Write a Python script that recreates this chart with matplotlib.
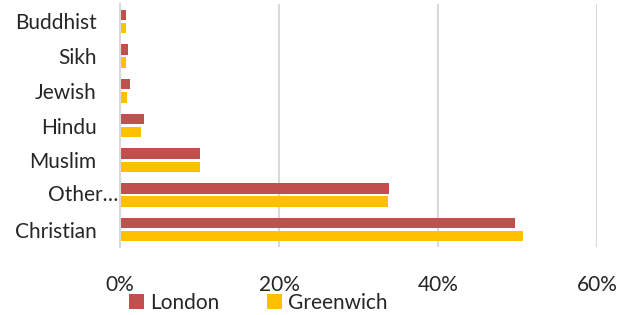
import matplotlib.pyplot as plt
import numpy as np

categories = ["Buddhist", "Sikh", "Jewish", "Hindu", "Muslim", "Other…", "Christian"]
london = [0.8, 1.0, 1.3, 3.0, 10.1, 33.8, 49.7]
greenwich = [0.75, 0.8, 0.9, 2.7, 10.0, 33.7, 50.7]
series_names = ["London", "Greenwich"]
xticks = [0, 20, 40, 60]

plt.rcParams['font.family'] = ['Lato', 'DejaVu Sans']

fig = plt.figure(figsize=(6.39, 3.15), dpi=100)
ax = fig.add_axes([120/639, 1-247/315, (597-120)/639, (247-4)/315])

y = np.arange(len(categories))
h = 0.3
ax.barh(y - 0.19, london, height=h, color="#C0504D", label=series_names[0])
ax.barh(y + 0.19, greenwich, height=h, color="#FFC000", label=series_names[1])

ax.set_ylim(len(categories) - 0.5, -0.5)
ax.set_xlim(0, 60)
ax.set_xticks(xticks)
ax.set_xticklabels([f"{t}%" for t in xticks])
ax.set_yticks(y)
ax.set_yticklabels(["" if c == "Other…" else c for c in categories])
ax.tick_params(axis="both", length=0, labelsize=15, colors="#262626")
ax.tick_params(axis="x", pad=20)
ax.tick_params(axis="y", pad=17)
# the truncated label sits closer to the axis, as in the original
i = categories.index("Other…")
ax.text(-0.004, i, "Other…", transform=ax.get_yaxis_transform(), ha="right",
        va="center", fontsize=15, color="#262626")
ax.grid(axis="x", color="#D9D9D9", linewidth=1.5)
ax.set_axisbelow(True)
for s in ["top", "right", "bottom"]:
    ax.spines[s].set_visible(False)
ax.spines["left"].set_color("#D9D9D9")
ax.spines["left"].set_linewidth(1.5)

leg = fig.legend(loc="center left", bbox_to_anchor=(129/639, 1-303/315), ncol=2, frameon=False,
                 fontsize=15, handlelength=0.7, handleheight=0.7, columnspacing=2.3,
                 handletextpad=0.3, labelcolor="#262626", borderpad=0, borderaxespad=0)

fig.savefig("out.png", dpi=100)
